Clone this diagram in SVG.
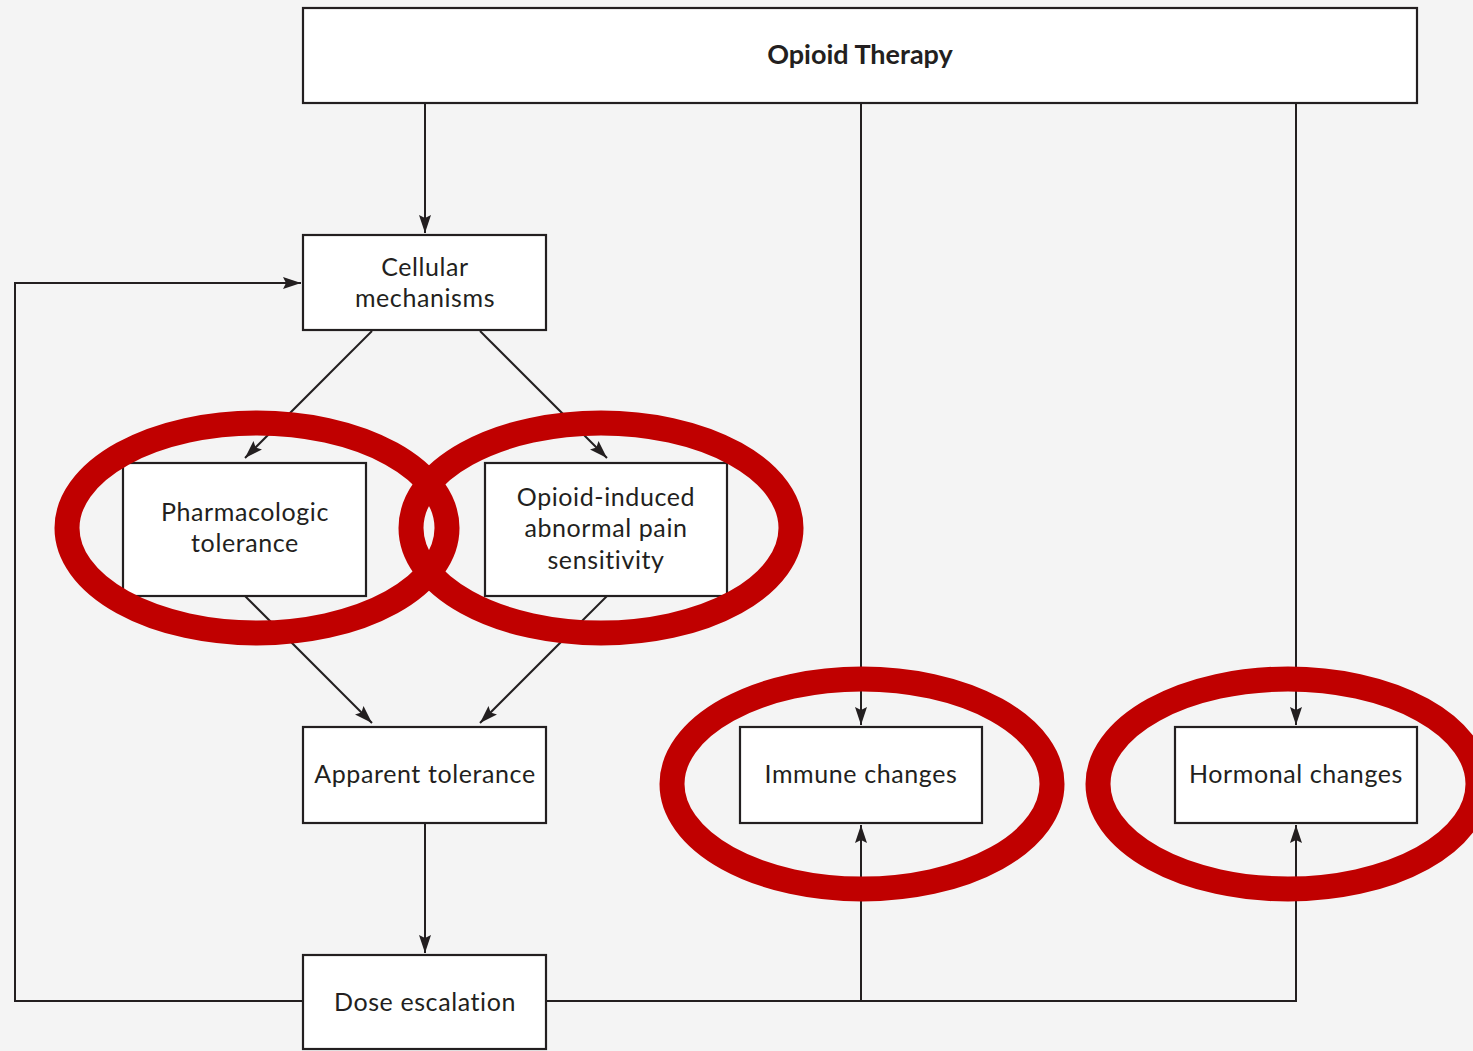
<svg xmlns="http://www.w3.org/2000/svg" width="1473" height="1051" viewBox="0 0 1473 1051">
<style>
.box{fill:#fff;stroke:#231f20;stroke-width:2.2}
.t{font-family:Lato,"Open Sans",sans-serif;font-size:25px;letter-spacing:0.6px;fill:#231f20;text-anchor:middle}
.h{font-family:Lato,"Open Sans",sans-serif;font-size:27px;font-weight:bold;fill:#231f20;text-anchor:middle}
.c{fill:none;stroke:#231f20;stroke-width:2}
.r{fill:none;stroke:#c00000;stroke-width:25}
</style>
<defs>
<marker id="a" viewBox="0 0 18 12" refX="18" refY="6" markerWidth="18" markerHeight="12" markerUnits="userSpaceOnUse" orient="auto">
<path d="M0,0 L18,6 L0,12 L3,6 Z" fill="#231f20"/>
</marker>
</defs>
<rect width="1473" height="1051" fill="#f4f4f4"/>
<g id="connectors">
<path class="c" d="M425,103 V233" marker-end="url(#a)"/>
<path class="c" d="M861,103 V725" marker-end="url(#a)"/>
<path class="c" d="M1296,103 V725" marker-end="url(#a)"/>
<path class="c" d="M372,331 L245,458" marker-end="url(#a)"/>
<path class="c" d="M480,331 L607,458" marker-end="url(#a)"/>
<path class="c" d="M245,596 L372,723" marker-end="url(#a)"/>
<path class="c" d="M607,596 L480,723" marker-end="url(#a)"/>
<path class="c" d="M425,823 V953" marker-end="url(#a)"/>
<path class="c" d="M303,1001 H15 V283 H301" marker-end="url(#a)"/>
<path class="c" d="M546,1001 H1296 V825" marker-end="url(#a)"/>
<path class="c" d="M861,1001 V825" marker-end="url(#a)"/>
</g>
<g id="opioid-therapy"><rect class="box" x="303" y="8" width="1114" height="95"/><text class="h" x="860" y="64">Opioid Therapy</text></g>
<g id="cellular"><rect class="box" x="303" y="235" width="243" height="95"/><text class="t" x="425" y="276">Cellular</text><text class="t" x="425" y="307">mechanisms</text></g>
<g id="pharmacologic"><rect class="box" x="123" y="463" width="243" height="133"/><text class="t" x="245" y="521">Pharmacologic</text><text class="t" x="245" y="552">tolerance</text></g>
<g id="oiaps"><rect class="box" x="485" y="463" width="242" height="133"/><text class="t" x="606" y="506">Opioid-induced</text><text class="t" x="606" y="537">abnormal pain</text><text class="t" x="606" y="569">sensitivity</text></g>
<g id="apparent"><rect class="box" x="303" y="727" width="243" height="96"/><text class="t" x="425" y="783">Apparent tolerance</text></g>
<g id="immune"><rect class="box" x="740" y="727" width="242" height="96"/><text class="t" x="861" y="783">Immune changes</text></g>
<g id="hormonal"><rect class="box" x="1175" y="727" width="242" height="96"/><text class="t" x="1296" y="783">Hormonal changes</text></g>
<g id="dose"><rect class="box" x="303" y="955" width="243" height="94"/><text class="t" x="425" y="1011">Dose escalation</text></g>
<g id="highlights">
<ellipse class="r" cx="257" cy="528" rx="190" ry="105"/>
<ellipse class="r" cx="601" cy="528" rx="190" ry="105"/>
<ellipse class="r" cx="862" cy="784" rx="190" ry="105"/>
<ellipse class="r" cx="1288" cy="784" rx="190" ry="105"/>
</g>
</svg>
